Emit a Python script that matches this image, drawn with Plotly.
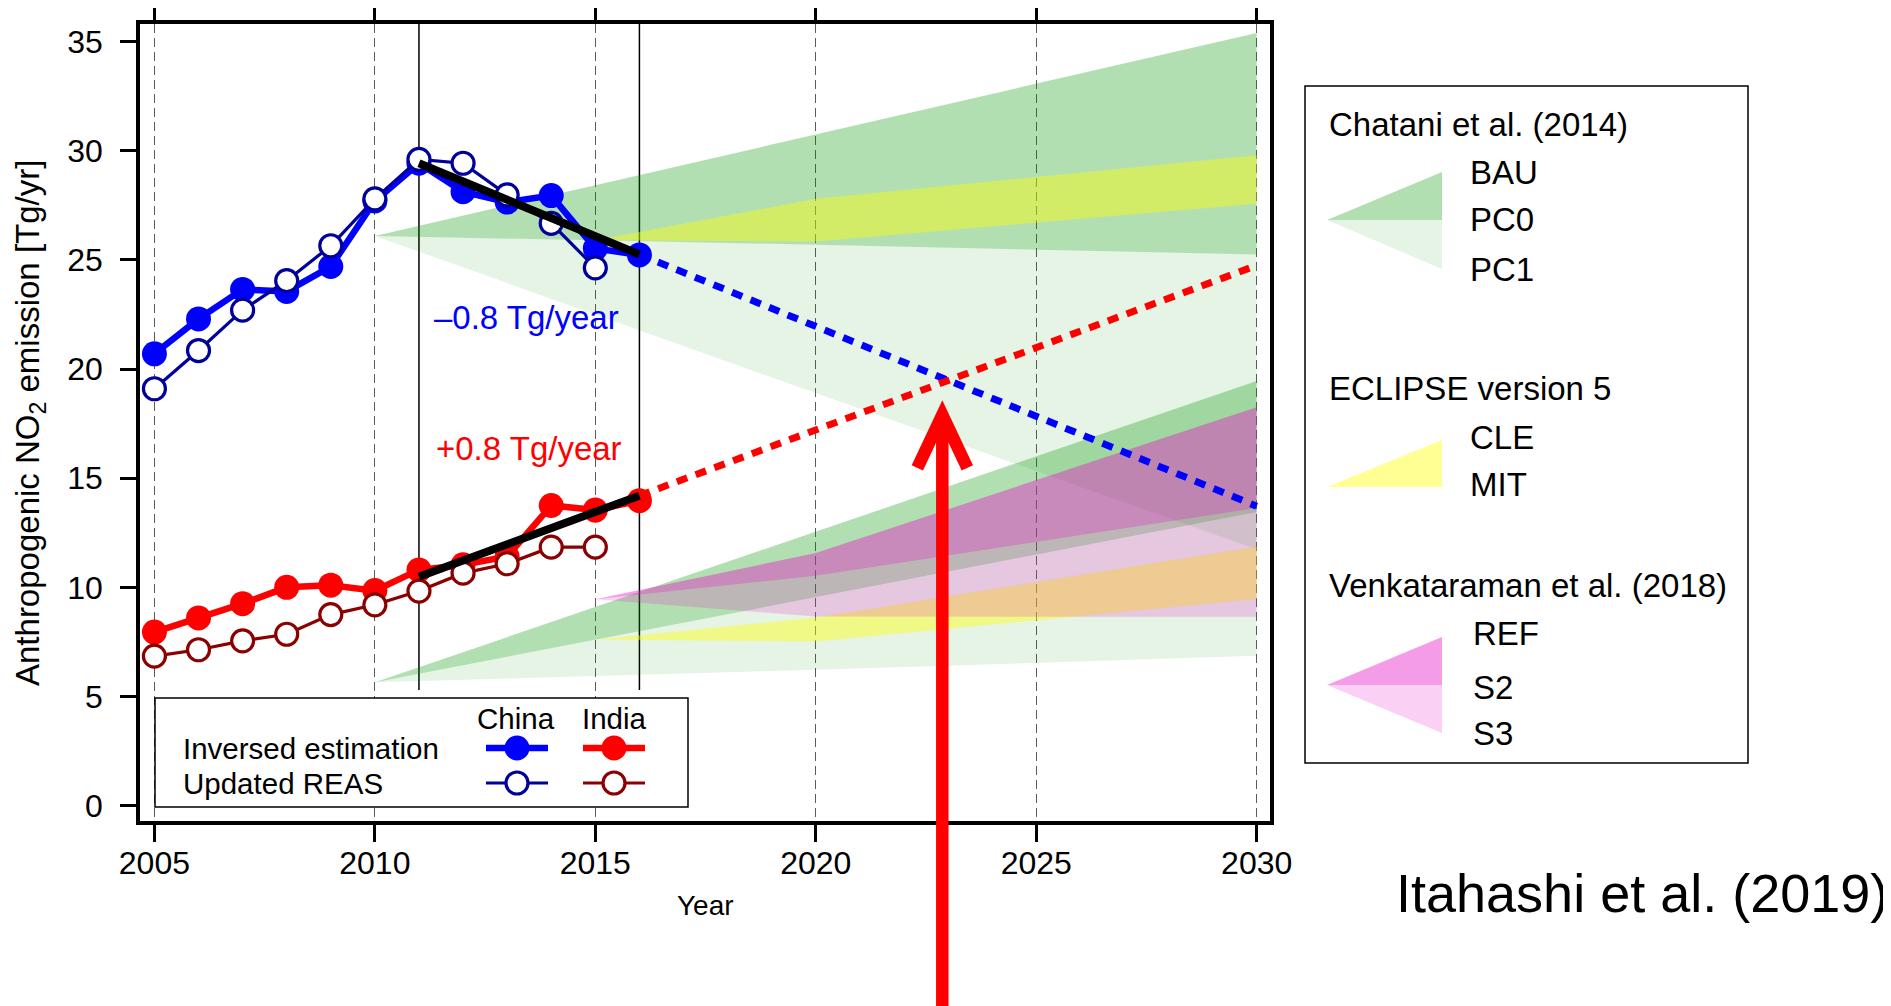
import plotly.graph_objects as go

# ---------------- data ----------------
years_obs = list(range(2005, 2017))
china_inverse = [20.7, 22.3, 23.65, 23.56, 24.7, 27.7, 29.43, 28.13, 27.65, 27.95, 25.53, 25.23]
india_inverse = [7.95, 8.6, 9.25, 10.0, 10.1, 9.85, 10.8, 11.03, 11.41, 13.75, 13.54, 13.97]
years_reas = list(range(2005, 2016))
china_reas = [19.1, 20.85, 22.7, 24.05, 25.65, 27.8, 29.61, 29.43, 27.98, 26.68, 24.64]
india_reas = [6.85, 7.14, 7.55, 7.85, 8.75, 9.2, 9.83, 10.65, 11.08, 11.84, 11.84]

trend_years = [2011, 2016]
china_trend = [29.43, 25.25]
india_trend = [10.49, 14.2]
proj_years = [2016, 2030]
china_proj = [25.25, 13.72]
india_proj = [14.2, 24.75]

chatani_years = [2010, 2020, 2030]
china_bau = [26.1, 30.75, 35.4]
china_pc0 = [26.1, 25.7, 25.25]
china_pc1 = [26.1, 18.9, 11.75]
india_bau = [5.65, 12.55, 19.45]
india_pc0 = [5.65, 9.55, 13.45]
india_pc1 = [5.65, 6.22, 6.86]

eclipse_years = [2015, 2020, 2030]
china_cle = [25.9, 27.8, 29.8]
china_mit = [25.9, 25.85, 27.57]
india_cle = [7.6, 8.62, 11.87]
india_mit = [7.6, 7.52, 9.46]

venk_years = [2015, 2020, 2030]
india_ref = [9.45, 11.57, 18.25]
india_s2 = [9.45, 10.53, 13.63]
india_s3 = [9.45, 8.66, 8.65]

x_ticks = [2005, 2010, 2015, 2020, 2025, 2030]
y_ticks = [0, 5, 10, 15, 20, 25, 30, 35]
period_lines = [2011, 2016]
period_line_bottom = 5.3

china_rate_label = "–0.8 Tg/year"
india_rate_label = "+0.8 Tg/year"
china_rate_pos = (2013.45, 22.35)
india_rate_pos = (2013.5, 16.35)
arrow_x = 2022.87
arrow_tip = 17.9

# ---------------- styles ----------------
FONT = "Liberation Sans, Arial, Helvetica, sans-serif"
GREEN_DARK = "rgba(0,150,0,0.30)"
GREEN_LIGHT = "rgba(0,150,0,0.10)"
YELLOW = "rgba(255,255,0,0.42)"
PINK_DARK = "rgba(230,20,200,0.42)"
PINK_LIGHT = "rgba(230,20,200,0.20)"
BLUE = "#0000ff"
NAVY = "#00009a"
RED = "#ff0000"
DARKRED = "#8b0000"

# page body has an 8px margin: figure is drawn 8px smaller so screen layout matches
BODY = 8
SW, SH = 1891, 1006
SL, SR, ST, SB = 140, 1270, 24, 821          # plot area on screen (px)
W, H = SW - BODY, SH - BODY
PW, PH = SR - SL, SB - ST
ML, MT = SL - BODY, ST - BODY
MR, MB = W - ML - PW, H - MT - PH
XMIN, XMAX = 2004.673, 2030.302
YMIN, YMAX = -0.706, 35.811


def px(xp):
    return (xp - SL) / PW


def py(yp):
    return (SB - yp) / PH


fig = go.Figure()


def band(xs, upper, lower, color):
    fig.add_trace(go.Scatter(
        x=xs + xs[::-1], y=upper + lower[::-1], mode="lines",
        fill="toself", fillcolor=color, line=dict(width=0),
        hoverinfo="skip", showlegend=False))


# Chatani et al. (2014) fans
band(chatani_years, china_pc0, china_pc1, GREEN_LIGHT)
band(chatani_years, china_bau, china_pc0, GREEN_DARK)
band(chatani_years, india_pc0, india_pc1, GREEN_LIGHT)
band(chatani_years, india_bau, india_pc0, GREEN_DARK)
# ECLIPSE v5
band(eclipse_years, china_cle, china_mit, YELLOW)
band(eclipse_years, india_cle, india_mit, YELLOW)
# Venkataraman et al. (2018)
band(venk_years, india_s2, india_s3, PINK_LIGHT)
band(venk_years, india_ref, india_s2, PINK_DARK)

# projections
fig.add_trace(go.Scatter(x=proj_years, y=china_proj, mode="lines",
                         line=dict(color=BLUE, width=7, dash="11px,9px"),
                         hoverinfo="skip", showlegend=False))
fig.add_trace(go.Scatter(x=proj_years, y=india_proj, mode="lines",
                         line=dict(color=RED, width=7, dash="11px,9px"),
                         hoverinfo="skip", showlegend=False))

# observed series
fig.add_trace(go.Scatter(x=years_obs, y=china_inverse, mode="lines+markers",
                         line=dict(color=BLUE, width=6.5),
                         marker=dict(size=25, color=BLUE, line=dict(width=0)),
                         showlegend=False))
fig.add_trace(go.Scatter(x=years_obs, y=india_inverse, mode="lines+markers",
                         line=dict(color=RED, width=6.5),
                         marker=dict(size=25, color=RED, line=dict(width=0)),
                         showlegend=False))
fig.add_trace(go.Scatter(x=years_reas, y=china_reas, mode="lines+markers",
                         line=dict(color=NAVY, width=3.2),
                         marker=dict(size=22, color="white", line=dict(width=3.2, color=NAVY)),
                         showlegend=False))
fig.add_trace(go.Scatter(x=years_reas, y=india_reas, mode="lines+markers",
                         line=dict(color=DARKRED, width=3.2),
                         marker=dict(size=22, color="white", line=dict(width=3.2, color=DARKRED)),
                         showlegend=False))

# trend lines
fig.add_trace(go.Scatter(x=trend_years, y=china_trend, mode="lines",
                         line=dict(color="black", width=8), showlegend=False))
fig.add_trace(go.Scatter(x=trend_years, y=india_trend, mode="lines",
                         line=dict(color="black", width=8), showlegend=False))

shapes = []
for xv in period_lines:
    shapes.append(dict(type="line", xref="x", yref="y", x0=xv, x1=xv,
                       y0=period_line_bottom, y1=YMAX, layer="below",
                       line=dict(color="black", width=1.5)))

# lower-left legend box
shapes.append(dict(type="rect", xref="paper", yref="paper",
                   x0=px(155), x1=px(688), y0=py(807), y1=py(698),
                   fillcolor="white", line=dict(color="black", width=1.5), layer="above"))


def sample(cx, cy, lcol, lw, mfill, mline, mlw, r):
    shapes.append(dict(type="line", xref="paper", yref="paper",
                       x0=px(cx - 31), x1=px(cx + 31), y0=py(cy), y1=py(cy),
                       line=dict(color=lcol, width=lw), layer="above"))
    shapes.append(dict(type="circle", xref="paper", yref="paper",
                       x0=px(cx - r), x1=px(cx + r), y0=py(cy + r), y1=py(cy - r),
                       fillcolor=mfill, line=dict(color=mline, width=mlw), layer="above"))


sample(517, 748, BLUE, 6.5, BLUE, BLUE, 0, 12.5)
sample(614, 748, RED, 6.5, RED, RED, 0, 12.5)
sample(517, 783, NAVY, 3.2, "white", NAVY, 3.2, 11)
sample(614, 783, DARKRED, 3.2, "white", DARKRED, 3.2, 11)

# right legend box
shapes.append(dict(type="rect", xref="paper", yref="paper",
                   x0=px(1305), x1=px(1748), y0=py(763), y1=py(86),
                   fillcolor="rgba(0,0,0,0)", line=dict(color="black", width=1.5), layer="above"))


def tri(pts, color):
    path = "M " + " L ".join(f"{px(a):.5f},{py(b):.5f}" for a, b in pts) + " Z"
    shapes.append(dict(type="path", xref="paper", yref="paper", path=path,
                       fillcolor=color, line=dict(width=0), layer="above"))


tri([(1327, 220), (1442, 172), (1442, 220)], GREEN_DARK)
tri([(1327, 220), (1442, 220), (1442, 269)], GREEN_LIGHT)
tri([(1327, 487), (1442, 440), (1442, 487)], YELLOW)
tri([(1327, 685), (1442, 637), (1442, 685)], PINK_DARK)
tri([(1327, 685), (1442, 685), (1442, 733)], PINK_LIGHT)

# big red arrow
shapes.append(dict(type="line", xref="x", yref="paper", x0=arrow_x, x1=arrow_x,
                   y0=-0.4, y1=(arrow_tip - YMIN) / (YMAX - YMIN) - 0.006,
                   line=dict(color=RED, width=12.5), layer="above"))
shapes.append(dict(type="path", xref="x", yref="y", xsizemode="pixel", ysizemode="pixel",
                   xanchor=arrow_x, yanchor=arrow_tip,
                   path="M -25,-53 L 0,0 L 25,-53",
                   line=dict(color=RED, width=12.5), layer="above"))

annotations = []


def text(xp, yp, s, size, xanchor="center", color="black", angle=0):
    annotations.append(dict(xref="paper", yref="paper", x=px(xp), y=py(yp), text=s,
                            showarrow=False, xanchor=xanchor, yanchor="middle",
                            textangle=angle, font=dict(size=size, color=color, family=FONT)))


# rate labels (data anchored)
annotations.append(dict(xref="x", yref="y", x=china_rate_pos[0], y=china_rate_pos[1],
                        text=china_rate_label, showarrow=False,
                        font=dict(size=33, color=BLUE, family=FONT)))
annotations.append(dict(xref="x", yref="y", x=india_rate_pos[0], y=india_rate_pos[1],
                        text=india_rate_label, showarrow=False,
                        font=dict(size=33, color=RED, family=FONT)))

text(705, 905, "Year", 28)
text(30, 423, "Anthropogenic NO<sub>2</sub> emission [Tg/yr]", 33, angle=-90)
text(1642, 893, "Itahashi et al. (2019)", 54)

text(516, 718, "China", 29.5)
text(614, 718, "India", 29.5)
text(181, 748, "Inversed estimation", 29.5, xanchor="left")
text(181, 783, "Updated REAS", 29.5, xanchor="left")

text(1327, 124, "Chatani et al. (2014)", 33, xanchor="left")
text(1468, 172, "BAU", 33, xanchor="left")
text(1468, 220, "PC0", 33, xanchor="left")
text(1468, 269, "PC1", 33, xanchor="left")
text(1327, 388, "ECLIPSE version 5", 33, xanchor="left")
text(1468, 437, "CLE", 33, xanchor="left")
text(1468, 485, "MIT", 33, xanchor="left")
text(1327, 585, "Venkataraman et al. (2018)", 33, xanchor="left")
text(1471, 633, "REF", 33, xanchor="left")
text(1471, 687, "S2", 33, xanchor="left")
text(1471, 733, "S3", 33, xanchor="left")

fig.update_layout(
    width=W, height=H,
    margin=dict(l=ML, r=MR, t=MT, b=MB, pad=0, autoexpand=False),
    paper_bgcolor="white", plot_bgcolor="white",
    font=dict(family=FONT, color="black"),
    showlegend=False,
    shapes=shapes, annotations=annotations,
    xaxis=dict(range=[XMIN, XMAX], tickvals=x_ticks, ticks="outside", ticklen=17,
               tickwidth=3, tickcolor="black", showline=True, linewidth=3.5,
               linecolor="black", mirror="ticks", showgrid=True, gridcolor="#5a5a5a",
               griddash="9px,5px", gridwidth=1.3, zeroline=False, automargin=False,
               tickfont=dict(size=32, family=FONT), ticklabelstandoff=-6),
    yaxis=dict(range=[YMIN, YMAX], tickvals=y_ticks, ticks="outside", ticklen=16,
               tickwidth=3, tickcolor="black", showline=True, linewidth=3.5,
               linecolor="black", mirror=True, showgrid=False, zeroline=False,
               automargin=False,
               tickfont=dict(size=32, family=FONT), ticklabelstandoff=11),
)

fig.write_html("out.html")
